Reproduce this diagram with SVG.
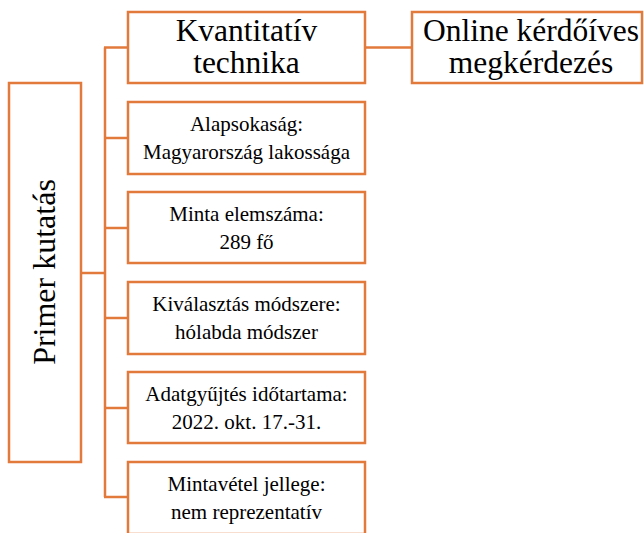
<svg xmlns="http://www.w3.org/2000/svg" width="644" height="533" viewBox="0 0 644 533">
  <defs>
    <style>
      .box { fill: #ffffff; stroke: #E27A3C; stroke-width: 2.5; }
      .link { fill: none; stroke: #E27A3C; stroke-width: 2.5; }
    </style>
  </defs>
  <rect width="644" height="533" fill="#ffffff"/>

  <!-- connectors -->
  <g id="connectors">
    <line class="link" x1="81" y1="273" x2="105" y2="273"/>
    <line class="link" x1="105" y1="47.5" x2="105" y2="497"/>
    <line class="link" x1="104" y1="47.5" x2="128" y2="47.5"/>
    <line class="link" x1="104" y1="138" x2="128" y2="138"/>
    <line class="link" x1="104" y1="228" x2="128" y2="228"/>
    <line class="link" x1="104" y1="318" x2="128" y2="318"/>
    <line class="link" x1="104" y1="408" x2="128" y2="408"/>
    <line class="link" x1="104" y1="497" x2="128" y2="497"/>
    <line class="link" x1="365" y1="47.5" x2="412" y2="47.5"/>
  </g>

  <g id="primer">
    <rect class="box" x="9" y="83" width="72" height="379"/>
    <text font-family="'Liberation Serif', 'Times New Roman', serif" font-size="32" text-anchor="middle" fill="#000" transform="translate(45,272) rotate(-90)" x="0" y="10">Primer kutatás</text>
  </g>

  <g id="kvantitativ">
    <rect class="box" x="128" y="12" width="237" height="71"/>
    <g font-family="'Liberation Serif', 'Times New Roman', serif" font-size="31.5" text-anchor="middle" fill="#000">
      <text x="246.5" y="41">Kvantitatív</text>
      <text x="246.5" y="73">technika</text>
    </g>
  </g>

  <g id="online">
    <rect class="box" x="412" y="12" width="230" height="71"/>
    <g font-family="'Liberation Serif', 'Times New Roman', serif" font-size="31.5" text-anchor="middle" fill="#000">
      <text x="531" y="41">Online kérdőíves</text>
      <text x="531" y="73">megkérdezés</text>
    </g>
  </g>

  <g id="alapsokasag">
    <rect class="box" x="128" y="102" width="237" height="72"/>
    <g font-family="'Liberation Serif', 'Times New Roman', serif" font-size="21" text-anchor="middle" fill="#000">
      <text x="246.5" y="131">Alapsokaság:</text>
      <text x="246.5" y="159">Magyarország lakossága</text>
    </g>
  </g>

  <g id="minta">
    <rect class="box" x="128" y="192" width="237" height="71"/>
    <g font-family="'Liberation Serif', 'Times New Roman', serif" font-size="21" text-anchor="middle" fill="#000">
      <text x="246.5" y="221">Minta elemszáma:</text>
      <text x="246.5" y="249">289 fő</text>
    </g>
  </g>

  <g id="kivalasztas">
    <rect class="box" x="128" y="282" width="237" height="72"/>
    <g font-family="'Liberation Serif', 'Times New Roman', serif" font-size="21" text-anchor="middle" fill="#000">
      <text x="246.5" y="311">Kiválasztás módszere:</text>
      <text x="246.5" y="339">hólabda módszer</text>
    </g>
  </g>

  <g id="adatgyujtes">
    <rect class="box" x="128" y="372" width="237" height="71"/>
    <g font-family="'Liberation Serif', 'Times New Roman', serif" font-size="21" text-anchor="middle" fill="#000">
      <text x="246.5" y="401">Adatgyűjtés időtartama:</text>
      <text x="246.5" y="429">2022. okt. 17.-31.</text>
    </g>
  </g>

  <g id="mintavetel">
    <rect class="box" x="128" y="462" width="237" height="72"/>
    <g font-family="'Liberation Serif', 'Times New Roman', serif" font-size="21" text-anchor="middle" fill="#000">
      <text x="246.5" y="491">Mintavétel jellege:</text>
      <text x="246.5" y="519">nem reprezentatív</text>
    </g>
  </g>
</svg>
